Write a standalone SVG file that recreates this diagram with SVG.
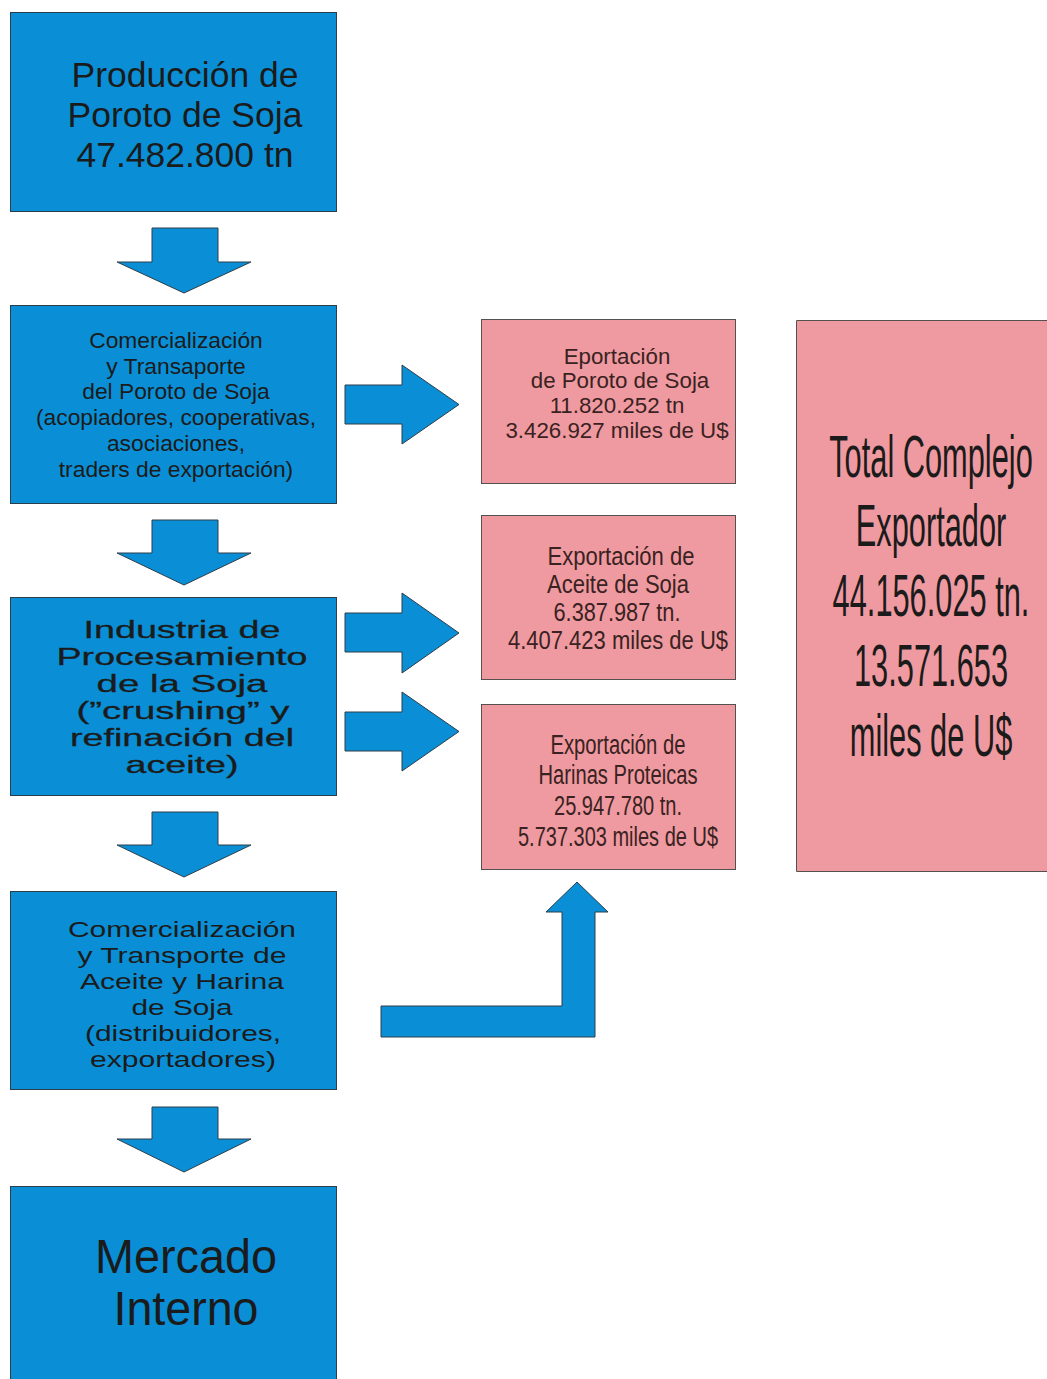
<svg xmlns="http://www.w3.org/2000/svg" width="1047" height="1379" viewBox="0 0 1047 1379">
  <style>
    .blue { fill: #0a8fd6; stroke: #2c3e4a; stroke-width: 1; }
    .pink { fill: #ef9aa0; stroke: #555050; stroke-width: 1; }
    .arrow { fill: #0a8fd6; stroke: #2c3e4a; stroke-width: 1; }
    text { font-family: "Liberation Sans", Arial, sans-serif; text-anchor: middle; fill: #1b1b1b; }
    .pt { fill: #3a2222; }
    .heavy { font-family: "DejaVu Sans", "Liberation Sans", sans-serif; stroke: #1b1b1b; stroke-width: 0.3; }
  </style>
  <rect width="1047" height="1379" fill="#ffffff"/>

  <!-- flow connectors -->
  <g id="connectors">
    <polygon class="arrow" points="152,228 218,228 218,262 251,262 184,293 117,262 152,262"/>
    <polygon class="arrow" points="152,520 218,520 218,553 251,553 184,585 117,553 152,553"/>
    <polygon class="arrow" points="152,812 218,812 218,845 251,845 184,877 117,845 152,845"/>
    <polygon class="arrow" points="152,1107 218,1107 218,1139 251,1139 184,1172 117,1139 152,1139"/>
    <polygon class="arrow" points="345,385 402,385 402,365 459,404.5 402,444 402,424 345,424"/>
    <polygon class="arrow" points="345,613 402,613 402,593 459,633 402,673 402,652 345,652"/>
    <polygon class="arrow" points="345,712 402,712 402,692 459,731.5 402,771 402,751 345,751"/>
    <polygon class="arrow" points="381,1006 562,1006 562,912 546,912 577,882 608,912 595,912 595,1037 381,1037"/>
  </g>

  <g id="produccion">
    <rect class="blue" x="10.5" y="12.5" width="326" height="199"/>
    <text font-size="35.5" x="185" y="87">Producción de</text>
    <text font-size="35.5" x="185" y="127">Poroto de Soja</text>
    <text font-size="35.5" x="185" y="167">47.482.800 tn</text>
  </g>

  <g id="comercializacion-poroto">
    <rect class="blue" x="10.5" y="305.5" width="326" height="198"/>
    <g font-size="22.8">
      <text x="176" y="348">Comercialización</text>
      <text x="176" y="374">y Transaporte</text>
      <text x="176" y="399">del Poroto de Soja</text>
      <text x="176" y="425">(acopiadores, cooperativas,</text>
      <text x="176" y="451">asociaciones,</text>
      <text x="176" y="477">traders de exportación)</text>
    </g>
  </g>

  <g id="industria">
    <rect class="blue" x="10.5" y="597.5" width="326" height="198"/>
    <g class="heavy" font-size="23">
      <text x="182" y="638" textLength="197" lengthAdjust="spacingAndGlyphs">Industria de</text>
      <text x="182" y="665" textLength="251" lengthAdjust="spacingAndGlyphs">Procesamiento</text>
      <text x="182" y="692" textLength="171" lengthAdjust="spacingAndGlyphs">de la Soja</text>
      <text x="183" y="719" textLength="213" lengthAdjust="spacingAndGlyphs">(”crushing” y</text>
      <text x="182" y="746" textLength="224" lengthAdjust="spacingAndGlyphs">refinación del</text>
      <text x="182" y="773" textLength="113" lengthAdjust="spacingAndGlyphs">aceite)</text>
    </g>
  </g>

  <g id="comercializacion-aceite">
    <rect class="blue" x="10.5" y="891.5" width="326" height="198"/>
    <g font-size="22">
      <text x="182" y="937" textLength="228" lengthAdjust="spacingAndGlyphs">Comercialización</text>
      <text x="182" y="963" textLength="209" lengthAdjust="spacingAndGlyphs">y Transporte de</text>
      <text x="182" y="989" textLength="204" lengthAdjust="spacingAndGlyphs">Aceite y Harina</text>
      <text x="182" y="1015" textLength="101" lengthAdjust="spacingAndGlyphs">de Soja</text>
      <text x="183" y="1041" textLength="196" lengthAdjust="spacingAndGlyphs">(distribuidores,</text>
      <text x="183" y="1067" textLength="186" lengthAdjust="spacingAndGlyphs">exportadores)</text>
    </g>
  </g>

  <g id="mercado-interno">
    <rect class="blue" x="10.5" y="1186.5" width="326" height="200"/>
    <text font-size="48" x="186" y="1273" textLength="182" lengthAdjust="spacingAndGlyphs">Mercado</text>
    <text font-size="48" x="186" y="1325" textLength="145" lengthAdjust="spacingAndGlyphs">Interno</text>
  </g>

  <g id="export-poroto">
    <rect class="pink" x="481.5" y="319.5" width="254" height="164"/>
    <g font-size="22.3">
      <text class="pt" x="617" y="364">Eportación</text>
      <text class="pt" x="620" y="388">de Poroto de Soja</text>
      <text class="pt" x="617" y="413">11.820.252 tn</text>
      <text class="pt" x="617" y="438">3.426.927 miles de U$</text>
    </g>
  </g>

  <g id="export-aceite">
    <rect class="pink" x="481.5" y="515.5" width="254" height="164"/>
    <g font-size="25">
      <text class="pt" x="621" y="565" textLength="147" lengthAdjust="spacingAndGlyphs">Exportación de</text>
      <text class="pt" x="618" y="593" textLength="142" lengthAdjust="spacingAndGlyphs">Aceite de Soja</text>
      <text class="pt" x="617" y="621" textLength="127" lengthAdjust="spacingAndGlyphs">6.387.987 tn.</text>
      <text class="pt" x="618" y="649" textLength="220" lengthAdjust="spacingAndGlyphs">4.407.423 miles de U$</text>
    </g>
  </g>

  <g id="export-harinas">
    <rect class="pink" x="481.5" y="704.5" width="254" height="165"/>
    <g font-size="27">
      <text class="pt" x="618" y="754" textLength="135" lengthAdjust="spacingAndGlyphs">Exportación de</text>
      <text class="pt" x="618" y="784" textLength="159" lengthAdjust="spacingAndGlyphs">Harinas Proteicas</text>
      <text class="pt" x="618" y="815" textLength="128" lengthAdjust="spacingAndGlyphs">25.947.780 tn.</text>
      <text class="pt" x="618" y="846" textLength="200" lengthAdjust="spacingAndGlyphs">5.737.303 miles de U$</text>
    </g>
  </g>

  <g id="total-complejo">
    <path class="pink" d="M1047,320.5 H796.5 V871.5 H1047"/>
    <!-- condensed lettering: horizontal squeeze about the box centre -->
    <g font-size="60" transform="translate(931,0) scale(0.513,1)">
      <text x="0" y="477">Total Complejo</text>
      <text x="0" y="546">Exportador</text>
      <text x="0" y="616">44.156.025 tn.</text>
      <text x="0" y="686">13.571.653</text>
      <text x="0" y="756">miles de U$</text>
    </g>
  </g>
</svg>
